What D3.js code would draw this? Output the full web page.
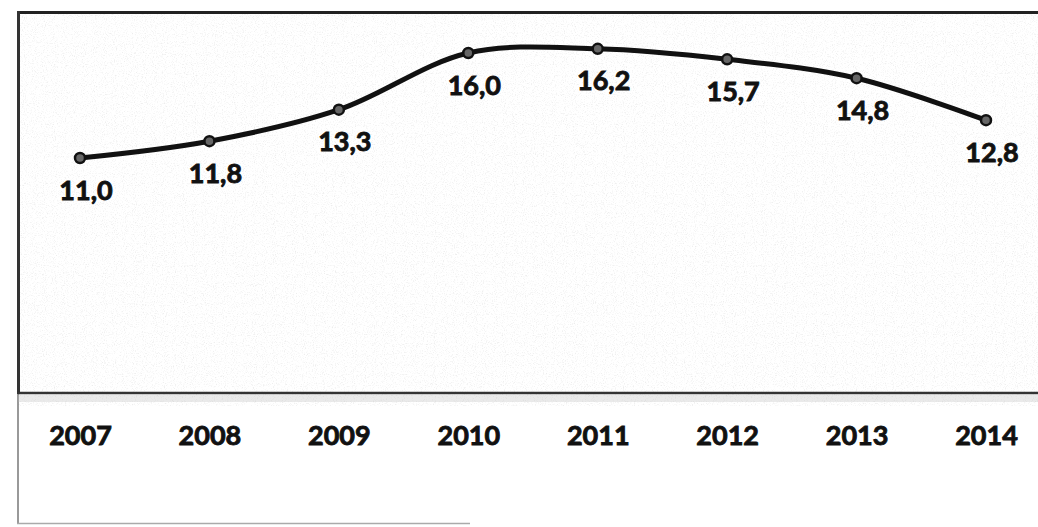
<!DOCTYPE html>
<html>
<head>
<meta charset="utf-8">
<script src="https://cdn.jsdelivr.net/npm/d3@7/dist/d3.min.js"></script>
<style>
  html, body { margin: 0; padding: 0; background: #fff; }
  svg { display: block; }
  text { font-family: Lato, "Open Sans", sans-serif; font-weight: bold; fill: #111; }
</style>
</head>
<body>
<svg id="chart" width="1038" height="527"></svg>
<script>
// Annual values, 2007–2014
const years = ["2007", "2008", "2009", "2010", "2011", "2012", "2013", "2014"];
const values = [11.0, 11.8, 13.3, 16.0, 16.2, 15.7, 14.8, 12.8];
const valueLabels = ["11,0", "11,8", "13,3", "16,0", "16,2", "15,7", "14,8", "12,8"];

const W = 1038, H = 527;
const svg = d3.select("#chart");

// Slight grain, like a printed page
const defs = svg.append("defs");
const grain = defs.append("filter").attr("id", "grain")
  .attr("x", 0).attr("y", 0).attr("width", "100%").attr("height", "100%");
grain.append("feTurbulence").attr("type", "fractalNoise")
  .attr("baseFrequency", 0.9).attr("numOctaves", 2).attr("seed", 4).attr("result", "n");
grain.append("feColorMatrix").attr("in", "n").attr("type", "matrix")
  .attr("values", "0 0 0 0 0.55  0 0 0 0 0.55  0 0 0 0 0.55  0 0 0 -3 1.45");

svg.append("rect").attr("width", W).attr("height", H).attr("fill", "#fff");
svg.append("rect").attr("x", 18).attr("y", 14).attr("width", W - 18).attr("height", 392)
  .attr("filter", "url(#grain)").attr("opacity", 0.3);

const x = d3.scalePoint().domain(years).range([80, 986]);
const y = d3.scaleLinear().domain([0, 18]).range([389, 11]);

// Frame
const frame = svg.append("g").attr("fill", "none");
frame.append("line").attr("x1", 18).attr("x2", W).attr("y1", 12.5).attr("y2", 12.5)
  .attr("stroke", "#222").attr("stroke-width", 3);
frame.append("line").attr("x1", 18.5).attr("x2", 18.5).attr("y1", 11).attr("y2", 394)
  .attr("stroke", "#333").attr("stroke-width", 3);
frame.append("line").attr("x1", 18).attr("x2", 18).attr("y1", 394).attr("y2", 524)
  .attr("stroke", "#777").attr("stroke-width", 1.5);
frame.append("line").attr("x1", 17).attr("x2", 470).attr("y1", 523.5).attr("y2", 523.5)
  .attr("stroke", "#aaa").attr("stroke-width", 1.5);

// Category axis
const axis = svg.append("g").attr("transform", "translate(0,393)")
  .call(d3.axisBottom(x).tickSize(0).tickPadding(33));
axis.select(".domain").remove();
svg.append("line").attr("x1", 18).attr("x2", W).attr("y1", 393).attr("y2", 393)
  .attr("stroke", "#333").attr("stroke-width", 2.5);
svg.append("rect").attr("x", 18).attr("y", 395).attr("width", W - 18).attr("height", 7)
  .attr("fill", "#bbb").attr("opacity", 0.3);
axis.selectAll("text")
  .attr("font-size", 27).attr("font-family", "Lato, 'Open Sans', sans-serif")
  .attr("font-weight", "bold").attr("fill", "#111")
  .attr("stroke", "#111").attr("stroke-width", 0.9).attr("dy", "0.71em");

// Series line
const pts = years.map((yr, i) => ({ yr, v: values[i], lab: valueLabels[i] }));
const line = d3.line().x(d => x(d.yr)).y(d => y(d.v)).curve(d3.curveCatmullRom.alpha(0.5));
svg.append("path").datum(pts).attr("d", line)
  .attr("fill", "none").attr("stroke", "#111").attr("stroke-width", 5)
  .attr("stroke-linejoin", "round").attr("stroke-linecap", "round");

// Markers
svg.selectAll("circle.m").data(pts).join("circle").attr("class", "m")
  .attr("cx", d => x(d.yr)).attr("cy", d => y(d.v)).attr("r", 5)
  .attr("fill", "#666").attr("stroke", "#111").attr("stroke-width", 2.5);

// Value labels below each point
svg.selectAll("text.v").data(pts).join("text").attr("class", "v")
  .attr("x", d => x(d.yr) + 6).attr("y", d => y(d.v) + 31)
  .attr("text-anchor", "middle").attr("dominant-baseline", "central")
  .attr("font-size", 27).attr("stroke", "#111").attr("stroke-width", 0.9)
  .text(d => d.lab);
</script>
</body>
</html>
